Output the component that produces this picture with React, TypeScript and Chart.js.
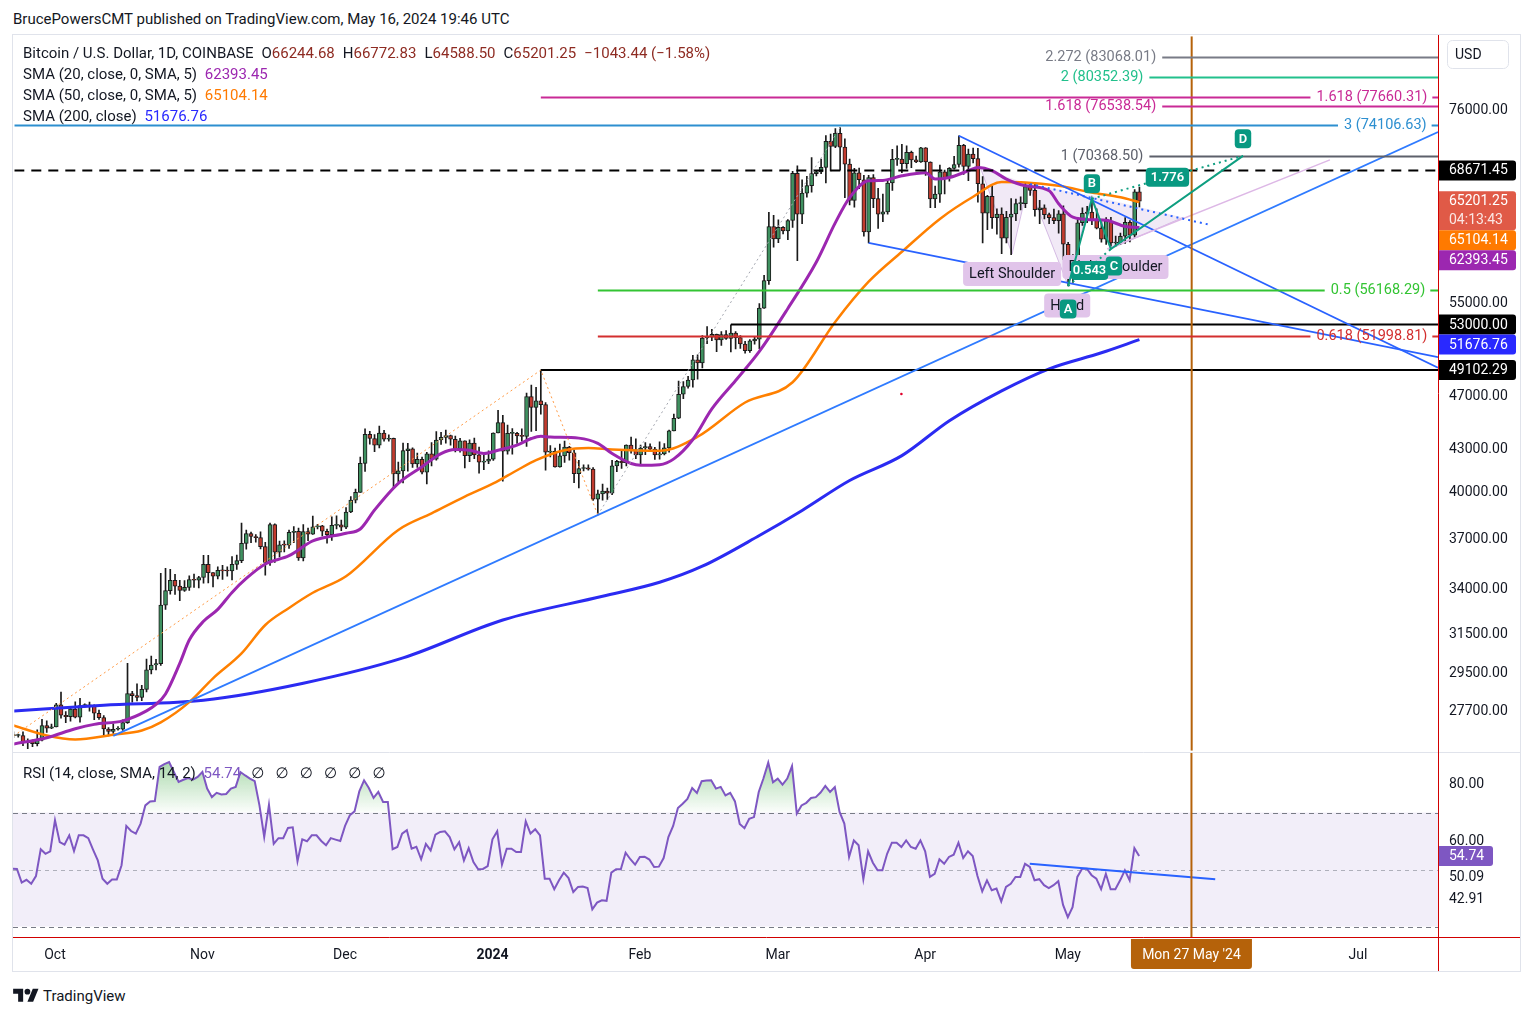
import React, { useEffect, useRef } from 'react';
import { Chart, registerables } from 'chart.js';

Chart.register(...registerables);

const FONT = 'Roboto, "Noto Sans", "DejaVu Sans", sans-serif';
const INK = '#131722';
Chart.defaults.font.family = FONT;

// ---- axes (day 0 = 1 Oct 2023) ----
const FIRST_CANDLE_DAY = -9; // 22 Sep 2023
const X_MIN = -8.83;
const X_MAX = 290.85;
const PRICE_MIN = 25909;
const PRICE_MAX = 86020;
const RSI_MIN = 26.32;
const RSI_MAX = 91.23;

// ---- daily candles, 22 Sep 2023 .. 16 May 2024 ----
const opens = [
  26570, 26580, 26580, 26260, 26300, 26220, 26370, 27030, 26910,
  26970, 27990, 27500, 27430, 27790, 27410, 27950, 27970, 27940, 27590, 27390, 26870, 26760, 26860, 26860, 27160, 28520, 28420, 28330, 28720, 29680, 29920, 29990, 33090, 33900, 34500, 34160, 33910, 34090, 34530, 34500,
  34660, 35440, 34940, 34730, 35080, 35050, 35040, 35430, 35650, 36700, 37310, 37130, 37060, 36500, 35550, 37880, 36160, 36610, 36590, 37390, 37460, 35810, 37430, 37280, 37730, 37800, 37460, 37250, 37830, 37860,
  37720, 38690, 39470, 39980, 41980, 44080, 43770, 43290, 44170, 43720, 43790, 41240, 41450, 42890, 43020, 41940, 42260, 41370, 42660, 42270, 43660, 43860, 43990, 43720, 43010, 43600, 42520, 43440, 42580, 42070, 42140,
  42280, 44180, 44950, 42850, 44150, 44160, 43970, 43930, 46970, 46110, 46630, 46340, 42780, 42840, 41730, 42510, 43140, 42740, 41260, 41620, 41660, 41580, 39530, 39880, 40080, 39930, 41810, 42120, 42030, 43300, 42940,
  42580, 43080, 43190, 43000, 42580, 42660, 43090, 44340, 45290, 47150, 47770, 48290, 49960, 49700, 51820, 51900, 52140, 51650, 52130, 51780, 52260, 51860, 51300, 50730, 51570, 51730, 54490, 57060, 62500,
  61200, 62400, 62030, 63130, 68330, 63800, 66100, 66940, 68300, 68500, 69020, 72100, 71480, 73080, 71400, 69400, 65300, 68390, 67600, 61940, 67850, 65500, 63800, 64050, 67230, 69960, 69990, 69450, 70780, 69900, 69650,
  71330, 69650, 65470, 65980, 68500, 67840, 68900, 69360, 71620, 69140, 70590, 70050, 67150, 63920, 65740, 63420, 63800, 61280, 63470, 63820, 64940, 64940, 66840, 66410, 64290, 64490, 63760, 63430, 63110, 63840,
  60660, 58300, 59120, 62890, 63890, 64030, 63160, 62330, 61190, 63070, 60790, 60820, 61480, 62940, 61600, 66244.68,
];
const highs = [
  26740, 26640, 26740, 26430, 26390, 26830, 27310, 27240, 27090,
  28060, 28590, 27670, 27830, 28120, 28290, 28030, 28110, 27990, 27740, 27480, 26940, 27100, 26980, 27290, 30000, 28620, 28990, 28920, 30220, 30370, 30210, 34900, 35200, 35140, 34840, 34500, 34480, 34750, 34860, 34720,
  35970, 35980, 34940, 35280, 35380, 35290, 35890, 35990, 37970, 37530, 37400, 37250, 37420, 36760, 37980, 37930, 36850, 36860, 37530, 37750, 37650, 37880, 37650, 38420, 37900, 37830, 37590, 38380, 38440, 38170,
  38970, 39700, 40200, 42420, 44490, 44300, 44060, 44700, 44370, 44040, 43810, 42070, 43430, 43420, 43090, 42720, 42430, 42760, 43480, 44290, 44230, 44400, 44020, 43950, 43790, 43600, 43680, 43800, 43140, 42600, 42880,
  44200, 45900, 45500, 44770, 44500, 44230, 44490, 47240, 47890, 47700, 49100, 46500, 43260, 43080, 43360, 43580, 43200, 42930, 42200, 41870, 41870, 41680, 40140, 40540, 40280, 42200, 42200, 42840, 43310, 43880, 43740,
  43290, 43480, 43380, 43120, 43530, 43400, 44400, 45600, 48200, 48170, 48590, 50330, 50370, 52040, 52820, 52580, 52170, 52380, 52480, 52990, 52380, 52030, 51540, 51690, 51950, 54910, 57580, 64000, 63680,
  63200, 62480, 63230, 68550, 69200, 67600, 67980, 70170, 68640, 70000, 72800, 73000, 73670, 73800, 72400, 70000, 68900, 68930, 68100, 68100, 68200, 66640, 65980, 67620, 71150, 71560, 71750, 71560, 70950, 70340, 71370,
  71340, 69670, 66900, 69290, 68720, 69000, 70300, 72780, 71760, 71180, 71300, 71250, 67950, 65850, 66900, 64370, 64490, 64120, 65500, 65450, 65700, 67230, 67200, 67070, 65300, 64800, 63920, 64350, 64200, 64700,
  60860, 59620, 63350, 64500, 64640, 65480, 64390, 62990, 63450, 63460, 61490, 61820, 63450, 63110, 66500, 66772.83,
];
const lows = [
  26480, 26500, 26130, 26000, 26090, 26120, 26340, 26720, 26890,
  26970, 27360, 27160, 27230, 27370, 27180, 27870, 27690, 27290, 27310, 26560, 26560, 26670, 26820, 26810, 27120, 28110, 28170, 28180, 28600, 29480, 29680, 29900, 32850, 33700, 33680, 33330, 33860, 33920, 34080, 34060,
  34330, 34350, 34110, 34580, 34540, 34740, 34520, 35130, 35530, 36350, 36750, 36770, 36360, 34800, 35370, 35550, 35880, 36180, 36390, 36750, 35660, 35640, 36870, 37260, 37600, 37170, 36710, 36880, 37600, 37500,
  37620, 38650, 39280, 39980, 41420, 43350, 42820, 43080, 43580, 43580, 40230, 40700, 40630, 41440, 41700, 41700, 41250, 40550, 41810, 42200, 43330, 43430, 43280, 42790, 42770, 41660, 42110, 42320, 41300, 41540, 41960,
  42190, 44180, 40750, 42630, 42630, 43410, 43570, 43200, 44300, 44360, 45600, 41500, 42440, 41720, 41720, 42050, 42210, 40640, 40280, 41450, 41510, 39440, 38500, 39460, 39510, 39830, 41400, 41620, 41800, 42700, 42310,
  41880, 42600, 42890, 42260, 42270, 42580, 42770, 44330, 45260, 46800, 47640, 47720, 48350, 49280, 51330, 51590, 50650, 51170, 51700, 50620, 50880, 50920, 50510, 50580, 51290, 50900, 54460, 56710, 60370,
  60820, 61710, 61120, 62400, 59000, 62800, 65650, 66200, 68050, 68300, 67230, 68600, 71340, 68700, 65600, 64800, 64550, 66600, 61500, 60800, 64500, 62300, 63000, 63800, 66400, 69250, 68400, 68900, 69000, 69560, 69600,
  68100, 64500, 64500, 65070, 66000, 67450, 68800, 69050, 68200, 67500, 69550, 65100, 60800, 62160, 62300, 61700, 59700, 60800, 59600, 63100, 64250, 64500, 65850, 63600, 62800, 63300, 62800, 62800, 61800, 59100,
  56550, 56900, 58800, 62600, 62900, 62700, 62250, 60860, 60640, 60180, 60470, 60640, 60750, 60900, 61350, 64588.5,
];
const closes = [
  26580, 26580, 26260, 26300, 26220, 26370, 27030, 26910, 26970,
  27990, 27500, 27430, 27790, 27410, 27950, 27970, 27940, 27590, 27390, 26870, 26760, 26860, 26860, 27160, 28520, 28420, 28330, 28720, 29680, 29920, 29990, 33090, 33900, 34500, 34160, 33910, 34090, 34530, 34500, 34660,
  35440, 34940, 34730, 35080, 35050, 35040, 35430, 35650, 36700, 37310, 37130, 37060, 36500, 35550, 37880, 36160, 36610, 36590, 37390, 37460, 35810, 37430, 37280, 37730, 37800, 37460, 37250, 37830, 37860, 37720,
  38690, 39470, 39980, 41980, 44080, 43770, 43290, 44170, 43720, 43790, 41240, 41450, 42890, 43020, 41940, 42260, 41370, 42660, 42270, 43660, 43860, 43990, 43720, 43010, 43600, 42520, 43440, 42580, 42070, 42140, 42280,
  44180, 44950, 42850, 44150, 44160, 43970, 43930, 46970, 46110, 46630, 46340, 42780, 42840, 41730, 42510, 43140, 42740, 41260, 41620, 41660, 41580, 39530, 39880, 40080, 39930, 41810, 42120, 42030, 43300, 42940, 42580,
  43080, 43190, 43000, 42580, 42660, 43090, 44340, 45290, 47150, 47770, 48290, 49960, 49700, 51820, 51900, 52140, 51650, 52130, 51780, 52260, 51860, 51300, 50730, 51570, 51730, 54490, 57060, 62500, 61200,
  62400, 62030, 63130, 68330, 63800, 66100, 66940, 68300, 68500, 69020, 72100, 71480, 73080, 71400, 69400, 65300, 68390, 67600, 61940, 67850, 65500, 63800, 64050, 67230, 69960, 69990, 69450, 70780, 69900, 69650, 71330,
  69650, 65470, 65980, 68500, 67840, 68900, 69360, 71620, 69140, 70590, 70050, 67150, 63920, 65740, 63420, 63800, 61280, 63470, 63820, 64940, 64940, 66840, 66410, 64290, 64490, 63760, 63430, 63110, 63840, 60660,
  58300, 59120, 62890, 63890, 64030, 63160, 62330, 61190, 63070, 60790, 60820, 61480, 62940, 61600, 66240, 65201.25,
];

const rsiValues = [
  50.3, 50.2, 45.4, 46.4, 45, 47.7, 57.1, 55.5, 56.4,
  67.3, 59.6, 58.7, 62, 56.5, 62, 62, 61, 57, 53.2, 46.8, 45, 46.5, 46.5, 51.5, 65.3, 63.5, 62.6, 66.1, 72.5, 73.9, 74, 86, 87, 87.7, 84.2, 80.7, 81.5, 82.1, 81.5, 82.5,
  84.2, 78.4, 75.4, 76.9, 76.3, 76.5, 78.4, 79, 84.2, 83, 81.9, 81, 72.5, 61.4, 72.7, 59, 61, 61, 64.6, 64.8, 52.9, 60.6, 59.9, 62, 62, 60, 58.5, 61, 60.5, 60,
  65.3, 69, 70.4, 77.4, 81.3, 78.6, 75.1, 77.2, 73.7, 73.7, 57.1, 57.9, 62.6, 63.8, 57.3, 58, 53.6, 59, 56.7, 62.2, 63.2, 63.4, 61.4, 57.1, 59.6, 53.2, 57.5, 52.6, 50.1, 50.2, 51.2,
  60.6, 63.4, 51.7, 57.3, 57.3, 56.1, 56.1, 66.9, 62.6, 64.1, 62, 46.8, 46.8, 43.1, 46.2, 48.9, 47, 42.1, 43.9, 44, 43.5, 36, 38.4, 39.2, 39, 48.9, 50.1, 50.1, 55.9, 53.6, 51.7,
  54.4, 54.5, 53.5, 50.9, 51, 54, 61.4, 65.3, 71.6, 73.1, 74.8, 78.6, 76.9, 81, 81.2, 81.3, 78.4, 79, 76, 76.9, 73.9, 66, 64.5, 67.8, 68.4, 77.2, 82, 87.5, 80.6,
  81.9, 79.8, 81.9, 86.3, 69.6, 72.5, 73.4, 75.1, 75.4, 77, 79.3, 77.2, 78.9, 70.2, 66.1, 54.4, 60.2, 58.5, 46.6, 56.4, 52.4, 49.7, 49.7, 55.5, 59.4, 59.4, 57.9, 60.2, 57.9, 57.3, 60.2,
  56.4, 47.4, 48.5, 53.6, 52, 54.4, 55.2, 59.4, 54, 56.4, 54.7, 47.7, 42.3, 46.2, 42.7, 43.3, 38.8, 43.9, 45, 47.4, 47.4, 52, 50.9, 46.2, 46.6, 44.5, 43.5, 44.5, 45.9, 37.6,
  33.3, 36.8, 47.4, 50.3, 50.3, 48, 46.8, 43.1, 48.5, 43.1, 43.1, 46.2, 49.7, 46.2, 57.5, 54.74,
];

// ---- moving averages ----
const sma20Days = [-9, -2, 4, 8, 14, 19, 21, 23, 26, 28, 31, 34, 37, 40, 44, 49, 54, 61, 64, 67, 72, 77, 81, 84, 87, 90, 93, 97, 100, 102, 104, 110, 114, 117, 121, 123, 127, 130, 134, 138, 143, 148, 154, 160, 164, 167, 171, 174, 178, 183, 185, 188, 192, 194, 197, 200, 204, 209, 211, 214, 218, 221, 225, 228];
const sma20Values = [26200, 26480, 26880, 27080, 27240, 27700, 28000, 28500, 30000, 31200, 32200, 32850, 33800, 34600, 35450, 35950, 36850, 37330, 37600, 38820, 40600, 41750, 42680, 42970, 42920, 42680, 42920, 43290, 43770, 43940, 43880, 43800, 43410, 42680, 41970, 41850, 41890, 42300, 43700, 46000, 48250, 50670, 54460, 58880, 62900, 65600, 67480, 67530, 68050, 68400, 67680, 67860, 68630, 69010, 68630, 67680, 66920, 66370, 64930, 63480, 63210, 63150, 62500, 62393.45];
const sma50Days = [-9, -2, 4, 12, 18, 22, 28, 33, 39, 44, 49, 54, 61, 72, 79, 86, 92, 97, 101, 107, 112, 117, 127, 135, 145, 155, 164, 171, 178, 186, 193, 199, 204, 211, 218, 224, 228];
const sma50Values = [27030, 26580, 26400, 26610, 26800, 27170, 28110, 29260, 30510, 32000, 32930, 33780, 34730, 37540, 38600, 39700, 40590, 41500, 42210, 42920, 43080, 42970, 42880, 43900, 46500, 48110, 53260, 56960, 59900, 63300, 65700, 67340, 67300, 66920, 66170, 65640, 65104.14];
const sma200Days = [-9, 10, 31, 52, 73, 94, 115, 127, 136, 148, 157, 167, 178, 188, 199, 209, 220, 228];
const sma200Values = [27690, 27970, 28200, 29020, 30280, 32270, 33580, 34380, 35320, 37190, 38790, 40790, 42530, 45100, 47420, 49210, 50550, 51676.76];

// ---- price axis ----
const priceTicks = [76000, 55000, 47000, 43000, 40000, 37000, 34000, 31500, 29500, 27700];
const axisTagValues = [68671.45, 65201.25, 65104.14, 62393.45, 53000, 51676.76, 49102.29];
const axisTagTexts = [['68671.45'], ['65201.25', '04:13:43'], ['65104.14'], ['62393.45'], ['53000.00'], ['51676.76'], ['49102.29']];
const axisTagColors = ['#000000', '#E05A47', '#FF7A00', '#9C27B0', '#000000', '#2929FF', '#000000'];

// ---- horizontal levels ----
const levelValues = [83068.01, 80352.39, 77660.31, 76538.54, 74106.63, 70368.5, 56168.29, 51998.81];
const levelTexts = ['2.272 (83068.01)', '2 (80352.39)', '1.618 (77660.31)', '1.618 (76538.54)', '3 (74106.63)', '1 (70368.50)', '0.5 (56168.29)', '0.618 (51998.81)'];
const levelStartDays = [232.8, 230.1, 102, 232.8, X_MIN, 230.1, 114, 114];
const levelEndDays = [null, null, 264, null, 269.8, null, 267, 264];
const levelColors = ['#787B86', '#22C08C', '#C92A96', '#C92A96', '#2D8FD0', '#5D606B', '#33C433', '#D32F2F'];

const blackLevelValues = [68671.45, 53000, 49102.29];
const blackLevelStartDays = [X_MIN, 142, 102];

// ---- trend lines (day, price) ----
const uptrendDays = [12, 290.85];
const uptrendPrices = [26560, 73250];
const wedgeUpperDays = [190, 290.85];
const wedgeUpperPrices = [72780, 49300];
const wedgeLowerDays = [171, 290.85];
const wedgeLowerPrices = [60800, 50180];
const necklineDays = [205, 242.5];
const necklinePrices = [67120, 62710];
const lavenderDays = [221.2, 268.1];
const lavenderPrices = [60180, 69900];
const orangeZigDays = [-9, 102, 114];
const orangeZigPrices = [26560, 49100, 38500];
const grayLegDays = [114, 165];
const grayLegPrices = [38500, 73800];
const markerDay = [177.9];
const markerPrice = [47170];
const PROJECTION_DAY = 239; // Mon 27 May '24

// ---- head & shoulders ----
const hsDays = [194.5, 201.2, 204.6, 212.8, 218, 221.9, 237.2];
const hsPrices = [69000, 59680, 67120, 56800, 65820, 60180, 63460];
const hsLabelTexts = ['Left Shoulder', 'Head', 'Right Shoulder'];
const hsLabelPoints = [1, 3, 5];
const hsLabelOffsets = [[0, 20], [0, 22], [5, 18]];

// ---- ABCD ----
const abcdDays = [213, 218, 222, 249.8];
const abcdPrices = [56550, 65480, 60180, 70370];
const abcdNames = ['A', 'B', 'C', 'D'];
const abcdNameOffsets = [[0, 23], [0, -15], [3, 17], [0, -17]];
const abcdRatios = ['0.543', '1.776'];

// ---- RSI pane ----
const rsiTicks = [80, 60];
const rsiTagValues = [54.74, 50.09, 42.91];
const rsiTagTexts = ['54.74', '50.09', '42.91'];
const rsiTagBoxed = [true, false, false];
const rsiTrendDays = [205, 244];
const rsiTrendValues = [52, 46.6];

// ---- time axis ----
const monthTickDays = [0, 31, 61, 92, 123, 152, 183, 213, 244, 274];
const monthTickLabels = ['Oct', 'Nov', 'Dec', '2024', 'Feb', 'Mar', 'Apr', 'May', 'Jun', 'Jul'];

const UP = '#3F9160';
const DOWN = '#C23B2E';

function pts(days: number[], vals: number[]) {
  return days.map((d, i) => ({ x: d, y: vals[i] }));
}

function tag(ctx: any, cx: number, cy: number, text: string, bg: string, fg: string, font: string, padX: number, h: number, r: number) {
  ctx.font = font;
  const w = ctx.measureText(text).width + padX * 2;
  ctx.beginPath();
  ctx.roundRect(cx - w / 2, cy - h / 2, w, h, r);
  ctx.fillStyle = bg;
  ctx.fill();
  ctx.fillStyle = fg;
  ctx.textAlign = 'center';
  ctx.textBaseline = 'middle';
  ctx.fillText(text, cx, cy + 0.5);
}

const priceOverlay = {
  id: 'priceOverlay',
  beforeDatasetsDraw(chart: any) {
    const { ctx, chartArea: ca } = chart;
    const xs = chart.scales.x;
    const ys = chart.scales.y;
    const p = hsDays.map((d, i) => [xs.getPixelForValue(d), ys.getPixelForValue(hsPrices[i])]);
    ctx.save();
    ctx.beginPath();
    ctx.rect(ca.left, ca.top, ca.right - ca.left, ca.bottom - ca.top);
    ctx.clip();
    ctx.fillStyle = 'rgba(171, 120, 200, 0.16)';
    [[0, 1, 2], [2, 3, 4], [4, 5, 6]].forEach(([a, b, c]) => {
      ctx.beginPath();
      ctx.moveTo(p[a][0], p[a][1]);
      ctx.lineTo(p[b][0], p[b][1]);
      ctx.lineTo(p[c][0], p[c][1]);
      ctx.closePath();
      ctx.fill();
    });
    ctx.strokeStyle = 'rgba(171, 120, 200, 0.45)';
    ctx.lineWidth = 1;
    ctx.beginPath();
    p.forEach(([x, y], i) => (i ? ctx.lineTo(x, y) : ctx.moveTo(x, y)));
    ctx.stroke();
    ctx.restore();
  },
  afterDatasetsDraw(chart: any) {
    const { ctx, chartArea: ca } = chart;
    const xs = chart.scales.x;
    const ys = chart.scales.y;
    const px = (d: number) => xs.getPixelForValue(d);
    const py = (v: number) => ys.getPixelForValue(v);
    const font = `14px ${FONT}`;
    const levelFont = `14.5px ${FONT}`;

    ctx.save();
    ctx.beginPath();
    ctx.rect(ca.left, ca.top, ca.right - ca.left, ca.bottom - ca.top);
    ctx.clip();

    // fib levels
    ctx.font = levelFont;
    ctx.textBaseline = 'middle';
    levelValues.forEach((v, i) => {
      const y = Math.round(py(v)) + 0.5;
      const x0 = px(levelStartDays[i]);
      const end = levelEndDays[i];
      const w = ctx.measureText(levelTexts[i]).width;
      ctx.strokeStyle = levelColors[i];
      ctx.fillStyle = levelColors[i];
      ctx.lineWidth = 2;
      ctx.beginPath();
      if (end === null) {
        ctx.moveTo(x0, y);
        ctx.lineTo(ca.right, y);
        ctx.stroke();
        ctx.textAlign = 'right';
        ctx.fillText(levelTexts[i], x0 - 6, y);
      } else {
        const x1 = px(end);
        ctx.moveTo(x0, y);
        ctx.lineTo(x1, y);
        ctx.moveTo(x1 + w + 11, y);
        ctx.lineTo(ca.right, y);
        ctx.stroke();
        ctx.textAlign = 'left';
        ctx.fillText(levelTexts[i], x1 + 6, y);
      }
    });

    // head & shoulders labels
    hsLabelTexts.forEach((t, i) => {
      const k = hsLabelPoints[i];
      const [ox, oy] = hsLabelOffsets[i];
      tag(ctx, px(hsDays[k]) + ox, py(hsPrices[k]) + oy, t, '#E1C4EA', INK, levelFont, 6, 24, 4);
    });

    // ABCD legs
    const a = abcdDays.map((d, i) => [px(d), py(abcdPrices[i])]);
    ctx.strokeStyle = '#0E9E80';
    ctx.lineWidth = 2;
    ctx.setLineDash([]);
    ctx.beginPath();
    a.forEach(([x, y], i) => (i ? ctx.lineTo(x, y) : ctx.moveTo(x, y)));
    ctx.stroke();
    ctx.setLineDash([2, 4]);
    ctx.beginPath();
    ctx.moveTo(a[0][0], a[0][1]);
    ctx.lineTo(a[2][0], a[2][1]);
    ctx.moveTo(a[1][0], a[1][1]);
    ctx.lineTo(a[3][0], a[3][1]);
    ctx.stroke();
    ctx.setLineDash([]);
    const bold = `600 13px ${FONT}`;
    tag(ctx, (a[0][0] + a[2][0]) / 2, (a[0][1] + a[2][1]) / 2 + 3, abcdRatios[0], '#089981', '#FFFFFF', bold, 2, 19, 4);
    tag(ctx, (a[1][0] + a[3][0]) / 2, (a[1][1] + a[3][1]) / 2, abcdRatios[1], '#089981', '#FFFFFF', bold, 5, 19, 4);
    abcdNames.forEach((n, i) => {
      const [ox, oy] = abcdNameOffsets[i];
      tag(ctx, a[i][0] + ox, a[i][1] + oy, n, '#089981', '#FFFFFF', bold, 4, 19, 4);
    });
    ctx.restore();

    // right price axis
    ctx.save();
    ctx.font = font;
    ctx.textAlign = 'left';
    ctx.textBaseline = 'middle';
    ctx.fillStyle = INK;
    priceTicks.forEach((v) => ctx.fillText(v.toFixed(2), ca.right + 11, py(v) + 0.5));
    let lastBottom = -Infinity;
    axisTagValues.forEach((v, i) => {
      const lines = axisTagTexts[i];
      const h = 20 + (lines.length - 1) * 19;
      let top = py(v) - 10;
      if (top < lastBottom) top = lastBottom;
      ctx.fillStyle = axisTagColors[i];
      ctx.beginPath();
      ctx.roundRect(ca.right, top, 78, h, [0, 3, 3, 0]);
      ctx.fill();
      ctx.fillStyle = '#FFFFFF';
      lines.forEach((t, j) => {
        ctx.globalAlpha = j === 0 ? 1 : 0.85;
        ctx.fillText(t, ca.right + 11, top + 10.5 + j * 19);
      });
      ctx.globalAlpha = 1;
      lastBottom = top + h;
    });
    // currency button
    ctx.strokeStyle = '#E0E3EB';
    ctx.lineWidth = 1;
    ctx.beginPath();
    ctx.roundRect(ca.right + 9.5, 5.5, 61, 28, 5);
    ctx.stroke();
    ctx.fillStyle = INK;
    ctx.fillText('USD', ca.right + 17, 20);
    // red frame line
    ctx.strokeStyle = '#D10000';
    ctx.beginPath();
    ctx.moveTo(ca.right + 0.5, 0);
    ctx.lineTo(ca.right + 0.5, chart.height);
    ctx.stroke();
    ctx.restore();
  },
};

const rsiOverlay = {
  id: 'rsiOverlay',
  beforeDatasetsDraw(chart: any) {
    const { ctx, chartArea: ca } = chart;
    const ys = chart.scales.y;
    const y70 = ys.getPixelForValue(70);
    const y30 = ys.getPixelForValue(30);
    const y50 = ys.getPixelForValue(50);
    ctx.save();
    ctx.fillStyle = 'rgba(126, 87, 194, 0.1)';
    ctx.fillRect(ca.left, y70, ca.right - ca.left, y30 - y70);
    ctx.lineWidth = 1;
    ctx.setLineDash([5, 4]);
    ctx.strokeStyle = '#787B86';
    [y70, y30].forEach((y) => {
      ctx.beginPath();
      ctx.moveTo(ca.left, Math.round(y) + 0.5);
      ctx.lineTo(ca.right, Math.round(y) + 0.5);
      ctx.stroke();
    });
    ctx.strokeStyle = 'rgba(120, 123, 134, 0.55)';
    ctx.setLineDash([4, 4]);
    ctx.beginPath();
    ctx.moveTo(ca.left, Math.round(y50) + 0.5);
    ctx.lineTo(ca.right, Math.round(y50) + 0.5);
    ctx.stroke();
    ctx.restore();
  },
  afterDatasetsDraw(chart: any) {
    const { ctx, chartArea: ca } = chart;
    const xs = chart.scales.x;
    const ys = chart.scales.y;
    const font = `14px ${FONT}`;
    ctx.save();
    // pane separator
    ctx.strokeStyle = '#E0E3EB';
    ctx.lineWidth = 1;
    ctx.beginPath();
    ctx.moveTo(0, 0.5);
    ctx.lineTo(chart.width, 0.5);
    ctx.stroke();
    // axis values
    ctx.font = font;
    ctx.textAlign = 'left';
    ctx.textBaseline = 'middle';
    ctx.fillStyle = INK;
    rsiTicks.forEach((v) => ctx.fillText(v.toFixed(2), ca.right + 11, ys.getPixelForValue(v) + 0.5));
    let lastBottom = -Infinity;
    rsiTagValues.forEach((v, i) => {
      const h = rsiTagBoxed[i] ? 20 : 22;
      let top = ys.getPixelForValue(v) - h / 2;
      if (top < lastBottom) top = lastBottom;
      if (rsiTagBoxed[i]) {
        ctx.fillStyle = '#7E57C2';
        ctx.beginPath();
        ctx.roundRect(ca.right, top, 55, 20, [0, 3, 3, 0]);
        ctx.fill();
        ctx.fillStyle = '#FFFFFF';
      } else {
        ctx.fillStyle = INK;
      }
      ctx.fillText(rsiTagTexts[i], ca.right + 11, top + h / 2 + 0.5);
      lastBottom = top + h;
    });
    // time axis
    ctx.textAlign = 'center';
    const ly = ca.bottom + 18;
    monthTickLabels.forEach((t, i) => {
      ctx.font = t === '2024' ? `bold 14px ${FONT}` : font;
      ctx.fillStyle = INK;
      ctx.fillText(t, xs.getPixelForValue(monthTickDays[i]), ly);
    });
    const cx = xs.getPixelForValue(PROJECTION_DAY);
    ctx.font = font;
    ctx.fillStyle = '#B5620A';
    ctx.beginPath();
    ctx.roundRect(cx - 60.5, ca.bottom + 2, 121, 30, [0, 0, 3, 3]);
    ctx.fill();
    ctx.fillStyle = '#FFFFFF';
    ctx.fillText("Mon 27 May '24", cx, ly);
    // red frame lines
    ctx.strokeStyle = '#D10000';
    ctx.beginPath();
    ctx.moveTo(ca.right + 0.5, 0);
    ctx.lineTo(ca.right + 0.5, chart.height);
    ctx.moveTo(0, Math.round(ca.bottom) + 0.5);
    ctx.lineTo(chart.width, Math.round(ca.bottom) + 0.5);
    ctx.stroke();
    ctx.restore();
  },
};

function lineDs(data: any[], color: string, width: number, order: number, extra: any = {}) {
  return {
    type: 'line',
    data,
    borderColor: color,
    borderWidth: width,
    pointRadius: 0,
    pointHoverRadius: 0,
    fill: false,
    order,
    ...extra,
  };
}

export default function App() {
  const priceRef = useRef<HTMLCanvasElement>(null);
  const rsiRef = useRef<HTMLCanvasElement>(null);

  useEffect(() => {
    const pc = priceRef.current;
    const rc = rsiRef.current;
    if (!pc || !rc) return;

    const days = opens.map((_, i) => FIRST_CANDLE_DAY + i);
    const wicks = days.map((d, i) => ({ x: d, y: [lows[i], highs[i]] }));
    const bodies = days.map((d, i) => ({ x: d, y: [opens[i], closes[i]] }));
    const bodyColors = days.map((_, i) => (closes[i] >= opens[i] ? UP : DOWN));

    const xScale = { type: 'linear', min: X_MIN, max: X_MAX, display: false, bounds: 'data', offset: false };

    const price = new Chart(pc, {
      type: 'line',
      data: {
        datasets: [
          { type: 'bar', data: wicks, backgroundColor: '#1A1A1A', borderWidth: 0, barThickness: 1, grouped: false, order: 30 },
          {
            type: 'bar', data: bodies, backgroundColor: bodyColors, borderColor: '#1A1A1A', borderWidth: 1,
            borderSkipped: false, barThickness: 4, grouped: false, minBarLength: 1, order: 29,
          },
          lineDs(pts(sma200Days, sma200Values), '#2B2BF2', 3, 28, { cubicInterpolationMode: 'monotone' }),
          lineDs(pts(sma50Days, sma50Values), '#FF8000', 2.5, 27, { cubicInterpolationMode: 'monotone' }),
          lineDs(pts(sma20Days, sma20Values), '#9C27B0', 3, 26, { cubicInterpolationMode: 'monotone' }),
          lineDs([{ x: blackLevelStartDays[0], y: blackLevelValues[0] }, { x: X_MAX, y: blackLevelValues[0] }], '#000000', 2, 20, { borderDash: [10, 7] }),
          lineDs([{ x: blackLevelStartDays[1], y: blackLevelValues[1] }, { x: X_MAX, y: blackLevelValues[1] }], '#000000', 2, 20),
          lineDs([{ x: blackLevelStartDays[2], y: blackLevelValues[2] }, { x: X_MAX, y: blackLevelValues[2] }], '#000000', 2, 20),
          lineDs(pts(orangeZigDays, orangeZigPrices), '#FF9A45', 1, 15, { borderDash: [2, 3] }),
          lineDs(pts(grayLegDays, grayLegPrices), '#A3A6AF', 1, 15, { borderDash: [2, 3] }),
          lineDs(pts(uptrendDays, uptrendPrices), '#2F7BFF', 1.8, 12),
          lineDs(pts(wedgeUpperDays, wedgeUpperPrices), '#2962FF', 1.8, 12),
          lineDs(pts(wedgeLowerDays, wedgeLowerPrices), '#2962FF', 1.8, 12),
          lineDs(pts(necklineDays, necklinePrices), '#2962FF', 2, 11, { borderDash: [2, 4] }),
          lineDs(pts(lavenderDays, lavenderPrices), '#DDB8E6', 1.5, 11),
          lineDs([{ x: PROJECTION_DAY, y: PRICE_MIN }, { x: PROJECTION_DAY, y: PRICE_MAX }], '#B5620A', 2, 5),
          lineDs(pts(markerDay, markerPrice), '#E0002B', 0, 4, { showLine: false, pointRadius: 1.3, backgroundColor: '#E0002B' }),
        ],
      } as any,
      options: {
        responsive: false,
        animation: false,
        events: [],
        layout: { padding: { right: 82 } },
        plugins: { legend: { display: false }, tooltip: { enabled: false } },
        scales: {
          x: xScale,
          y: { type: 'logarithmic', min: PRICE_MIN, max: PRICE_MAX, display: false, bounds: 'data' },
        },
      } as any,
      plugins: [priceOverlay],
    } as any);

    const rctx = rc.getContext('2d') as CanvasRenderingContext2D;
    const paneH = 185;
    const yOf = (v: number) => ((RSI_MAX - v) / (RSI_MAX - RSI_MIN)) * paneH;
    const green = rctx.createLinearGradient(0, yOf(89), 0, yOf(70));
    green.addColorStop(0, 'rgba(76, 175, 80, 0.5)');
    green.addColorStop(1, 'rgba(76, 175, 80, 0.02)');

    const rsi = new Chart(rc, {
      type: 'line',
      data: {
        datasets: [
          lineDs(days.map((d, i) => ({ x: d, y: rsiValues[i] })), '#7E57C2', 2, 5, {
            fill: { target: { value: 70 }, above: green, below: 'rgba(0,0,0,0)' },
          }),
          lineDs(pts(rsiTrendDays, rsiTrendValues), '#2962FF', 2, 4),
          lineDs([{ x: PROJECTION_DAY, y: RSI_MIN }, { x: PROJECTION_DAY, y: RSI_MAX }], '#B5620A', 2, 3),
        ],
      } as any,
      options: {
        responsive: false,
        animation: false,
        events: [],
        layout: { padding: { right: 82, bottom: 34 } },
        plugins: { legend: { display: false }, tooltip: { enabled: false } },
        scales: {
          x: xScale,
          y: { type: 'linear', min: RSI_MIN, max: RSI_MAX, display: false, bounds: 'data' },
        },
      } as any,
      plugins: [rsiOverlay],
    } as any);

    return () => {
      price.destroy();
      rsi.destroy();
    };
  }, []);

  const row = (top: number): React.CSSProperties => ({
    position: 'absolute', left: 23, top, font: `15px ${FONT}`, color: INK, whiteSpace: 'nowrap', lineHeight: '18px',
  });
  const red = '#8E2B22';

  return (
    <div style={{ position: 'absolute', left: 0, top: 0, width: 1533, height: 1016, background: '#FFFFFF', fontFamily: FONT }}>
      <div style={{ position: 'absolute', left: 13, top: 10, font: `15px ${FONT}`, color: INK, whiteSpace: 'nowrap', lineHeight: '18px' }}>
        BrucePowersCMT published on TradingView.com, May 16, 2024 19:46 UTC
      </div>
      <div style={{ position: 'absolute', left: 12, top: 34, width: 1509, height: 938, border: '1px solid #E0E3EB', boxSizing: 'border-box' }} />
      <canvas ref={priceRef} width={1507} height={717} style={{ position: 'absolute', left: 13, top: 35 }} />
      <canvas ref={rsiRef} width={1507} height={219} style={{ position: 'absolute', left: 13, top: 752 }} />
      <div style={row(44)}>
        <span>Bitcoin / U.S. Dollar, 1D, COINBASE</span>
        <span style={{ marginLeft: 8 }}>O</span><span style={{ color: red }}>66244.68</span>
        <span style={{ marginLeft: 8 }}>H</span><span style={{ color: red }}>66772.83</span>
        <span style={{ marginLeft: 8 }}>L</span><span style={{ color: red }}>64588.50</span>
        <span style={{ marginLeft: 8 }}>C</span><span style={{ color: red }}>65201.25</span>
        <span style={{ marginLeft: 8, color: red }}>−1043.44 (−1.58%)</span>
      </div>
      <div style={row(65)}>SMA (20, close, 0, SMA, 5) <span style={{ marginLeft: 4, color: '#9C27B0' }}>62393.45</span></div>
      <div style={row(86)}>SMA (50, close, 0, SMA, 5) <span style={{ marginLeft: 4, color: '#FF7A00' }}>65104.14</span></div>
      <div style={row(107)}>SMA (200, close) <span style={{ marginLeft: 4, color: '#2929FF' }}>51676.76</span></div>
      <div style={row(764)}>
        RSI (14, close, SMA, 14, 2) <span style={{ marginLeft: 4, color: '#7E57C2' }}>54.74</span>
        <span style={{ marginLeft: 10 }}>∅&nbsp;&nbsp;&nbsp;∅&nbsp;&nbsp;&nbsp;∅&nbsp;&nbsp;&nbsp;∅&nbsp;&nbsp;&nbsp;∅&nbsp;&nbsp;&nbsp;∅</span>
      </div>
      <div style={{ position: 'absolute', left: 13, top: 986, display: 'flex', alignItems: 'center', gap: 4 }}>
        <svg width="26" height="20" viewBox="0 0 36 28">
          <path d="M14 22H7V11H0V4h14v18zM28 22h-8l7.5-18h8L28 22z" fill={INK} />
          <circle cx="20" cy="8" r="4" fill={INK} />
        </svg>
        <span style={{ font: `15px ${FONT}`, color: INK }}>TradingView</span>
      </div>
    </div>
  );
}
